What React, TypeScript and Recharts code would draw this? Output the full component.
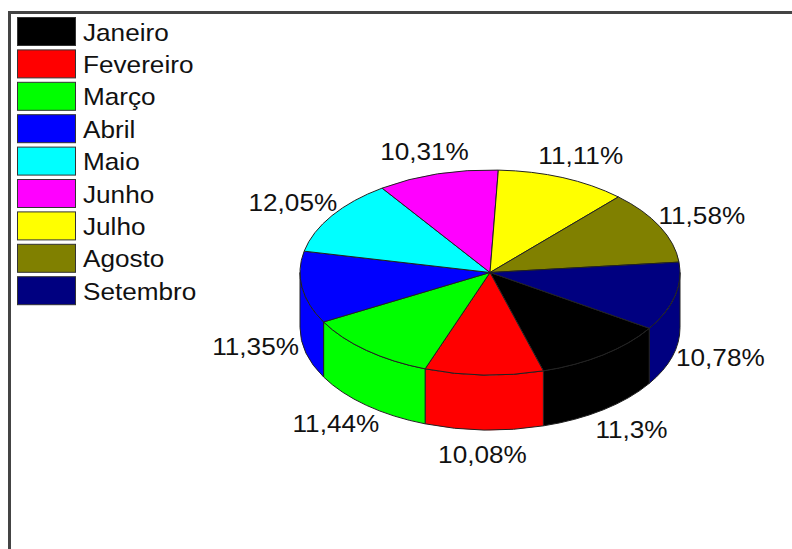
import React from 'react';
import { PieChart, Pie, Legend } from 'recharts';

const months = ['Janeiro', 'Fevereiro', 'Março', 'Abril', 'Maio', 'Junho', 'Julho', 'Agosto', 'Setembro'];
const shares = [11.3, 10.08, 11.44, 11.35, 12.05, 10.31, 11.11, 11.58, 10.78];
const colors = ['#000000', '#ff0000', '#00ff00', '#0000ff', '#00ffff', '#ff00ff', '#ffff00', '#808000', '#000080'];

const pieData = months.map((name, i) => ({ name, value: shares[i], fill: colors[i] }));

const TILT = 102.5 / 190; // vertical squash of the pie top
const DEPTH = 55; // wall height
const FONT = '"Liberation Sans", Arial, sans-serif';
const FONT_SIZE = 24;
const TEXT_STRETCH = 1.09;

const point = (cx: number, cy: number, rx: number, ry: number, deg: number) => ({
  x: cx + rx * Math.cos((deg * Math.PI) / 180),
  y: cy + ry * Math.sin((deg * Math.PI) / 180),
});

// Slice top plus the part of its outer wall that faces the viewer
const Slice3D = (props: any) => {
  const { cx, cy, outerRadius, startAngle, endAngle, fill } = props;
  const rx = outerRadius;
  const ry = outerRadius * TILT;
  const a1 = -startAngle;
  const a2 = -endAngle;
  const p1 = point(cx, cy, rx, ry, a1);
  const p2 = point(cx, cy, rx, ry, a2);
  const large = a2 - a1 > 180 ? 1 : 0;
  const walls: React.ReactNode[] = [];
  [0, 360].forEach((base) => {
    const from = Math.max(a1, base);
    const to = Math.min(a2, base + 180);
    if (to <= from) return;
    const w1 = point(cx, cy, rx, ry, from);
    const w2 = point(cx, cy, rx, ry, to);
    walls.push(
      <path
        key={base}
        d={`M${w1.x} ${w1.y} A${rx} ${ry} 0 0 1 ${w2.x} ${w2.y} L${w2.x} ${w2.y + DEPTH} A${rx} ${ry} 0 0 0 ${w1.x} ${w1.y + DEPTH} Z`}
        fill={fill}
        stroke="#222"
        strokeWidth={1}
      />
    );
  });
  return (
    <g>
      {walls}
      <path
        d={`M${cx} ${cy} L${p1.x} ${p1.y} A${rx} ${ry} 0 ${large} 1 ${p2.x} ${p2.y} Z`}
        fill={fill}
        stroke="#222"
        strokeWidth={1}
      />
    </g>
  );
};

// Percent labels sit on a larger ellipse; front ones are pushed below the wall
const renderShare = (props: any) => {
  const { cx, cy, outerRadius, midAngle, value } = props;
  const p = point(cx, cy, outerRadius + 47, outerRadius * TILT + 24, -midAngle);
  const below = Math.sin((-midAngle * Math.PI) / 180) > 0;
  return (
    <text
      transform={`translate(${p.x} ${p.y + (below ? DEPTH : 0)}) scale(${TEXT_STRETCH} 1)`}
      textAnchor="middle"
      dominantBaseline="central"
      fontFamily={FONT}
      fontSize={FONT_SIZE}
      fill="#111"
    >
      {`${String(value).replace('.', ',')}%`}
    </text>
  );
};

const MonthLegend = ({ payload }: any) => (
  <svg width={200} height={300} style={{ display: 'block' }}>
    {(payload || []).map((entry: any, i: number) => (
      <g key={entry.value} transform={`translate(0 ${i * 32.4})`}>
        <rect x={0.5} y={0.5} width={58} height={28} fill={colors[i]} stroke="#333" strokeWidth={1} />
        <text
          transform={`translate(66 23.5) scale(${TEXT_STRETCH} 1)`}
          fontFamily={FONT}
          fontSize={FONT_SIZE}
          fill="#111"
        >
          {entry.value}
        </text>
      </g>
    ))}
  </svg>
);

export default function App() {
  return (
    <div style={{ position: 'absolute', left: 0, top: 0, width: 792, height: 549, background: '#fff', overflow: 'hidden' }}>
      <div
        style={{
          position: 'absolute',
          left: 8,
          top: 11,
          right: 0,
          bottom: 0,
          borderTop: '3px solid #444',
          borderLeft: '3px solid #444',
        }}
      />
      <PieChart width={792} height={549} margin={{ top: 0, right: 0, bottom: 0, left: 0 }} style={{ position: 'absolute', left: 0, top: 0 }}>
        <Pie
          data={pieData}
          dataKey="value"
          nameKey="name"
          cx={490}
          cy={272.5}
          outerRadius={190}
          startAngle={-33}
          endAngle={-393}
          stroke="#222"
          shape={Slice3D}
          label={renderShare}
          labelLine={false}
          isAnimationActive={false}
        />
        <Legend
          content={MonthLegend}
          itemSorter={null}
          wrapperStyle={{ position: 'absolute', left: 17, top: 17, width: 200, height: 300, bottom: 'auto' }}
        />
      </PieChart>
    </div>
  );
}
